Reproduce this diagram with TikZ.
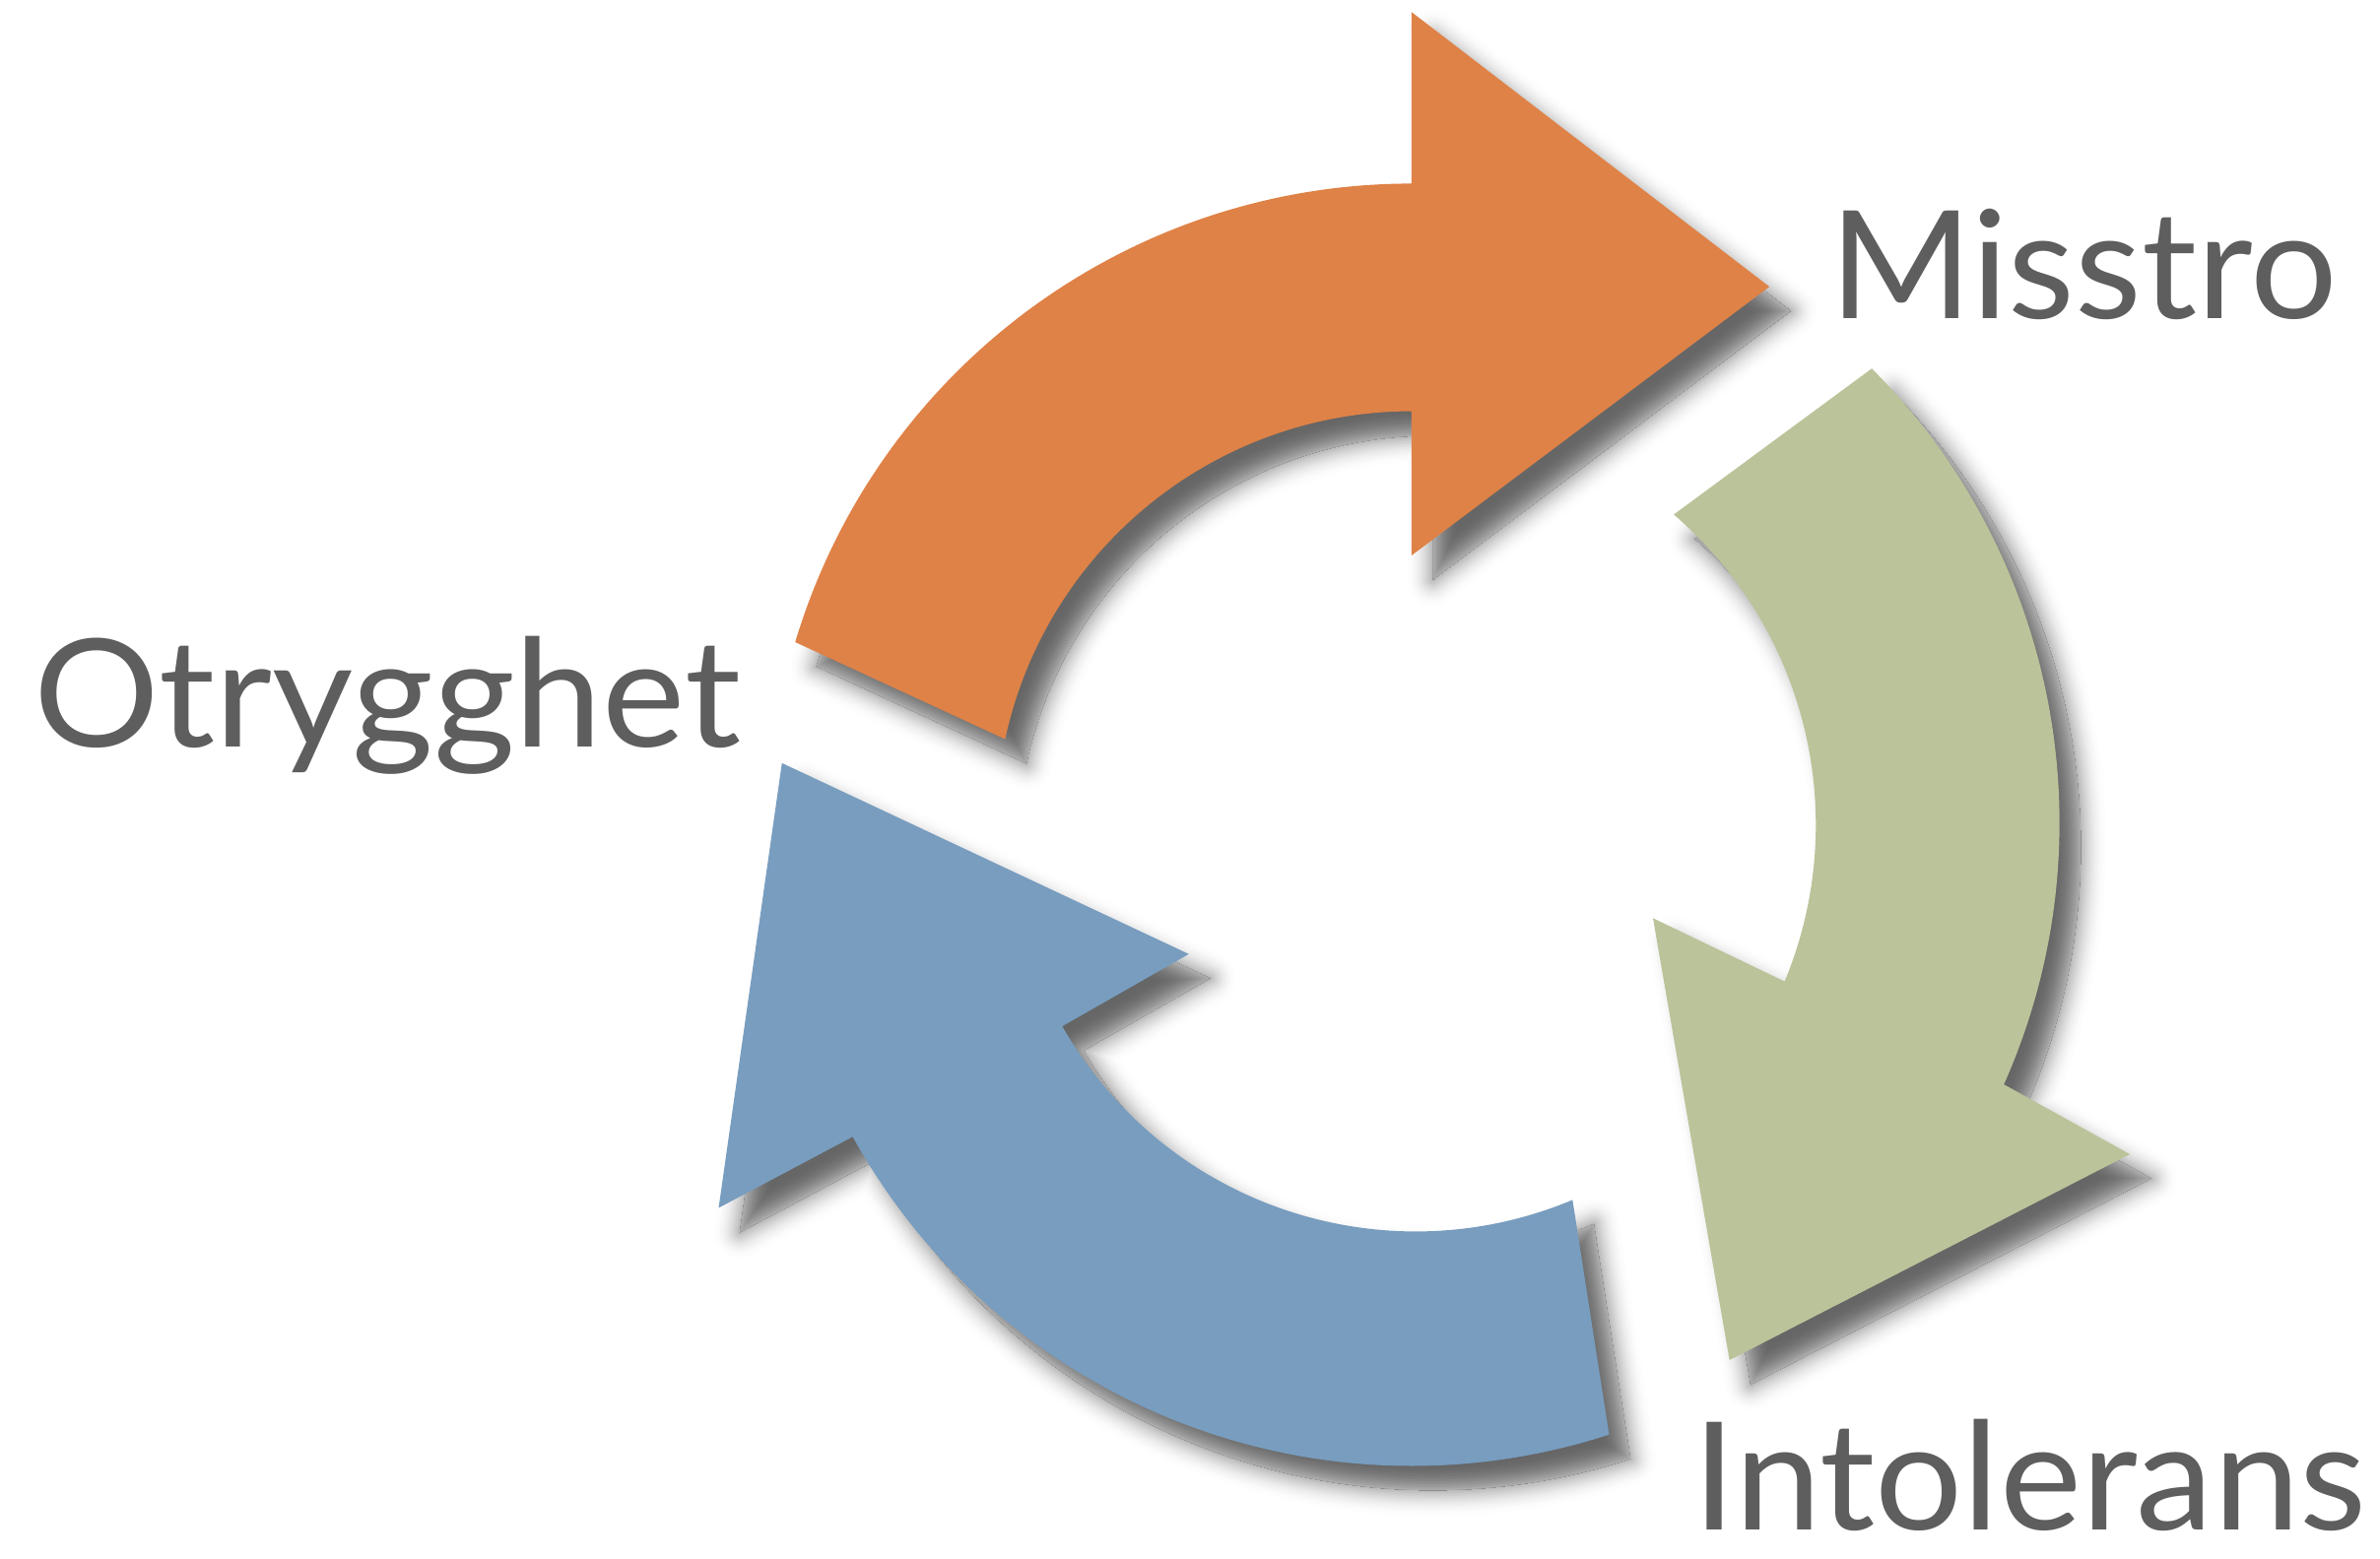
\documentclass[tikz,border=0pt]{standalone}
\usepackage{fontspec}
\setmainfont{Lato}
\usetikzlibrary{shadows.blur}
\definecolor{arOrange}{HTML}{DF8247}
\definecolor{arGreen}{HTML}{BBC39A}
\definecolor{arBlue}{HTML}{789DBF}
\definecolor{txtGray}{HTML}{5E5E5E}
\def\orangepath{(163.3:424pt) arc[start angle=163.3,end angle=90,radius=424pt]
  -- (90:537pt) -- (56.5:427pt) -- (90:179pt) -- (90:274pt)
  arc[start angle=90,end angle=167.8,radius=274pt] -- cycle}
\def\greenpath{(44.9:428pt) arc[start angle=44.9,end angle=-24,radius=424pt]
  -- (-24.5:520pt) -- (-59.2:409pt) -- (-20.7:170pt) -- (-22.5:266pt)
  arc[start angle=-22.5,end angle=49.2,radius=270pt] -- cycle}
\def\bluepath{(288:421pt) arc[start angle=288,end angle=209,radius=421pt]
  -- (208.8:521pt) -- (174.2:417pt) -- (209.7:169pt) -- (209.7:265pt)
  arc[start angle=209.7,end angle=292.7,radius=268pt] -- cycle}
\begin{document}
\begin{tikzpicture}[x=1pt,y=1pt,
  ring/.style={line join=round},
  lbl/.style={font=\fontsize{99}{110}\selectfont, text=txtGray, inner sep=0pt, anchor=base west}]
\useasboundingbox (0,0) rectangle (1568,1027);
\fill[white] (0,0) rectangle (1568,1027);
\begin{scope}[shift={(930,482)}]
% soft drop shadows built from opaque grey rings
\begin{scope}[shift={(14,-16)}]
% outer fade (widest, lightest first)
\foreach \k in {18,...,1}{
  \pgfmathsetmacro\dk{60*0.5*(1-\k/19)^2}
  \pgfmathsetmacro\lw{2*\k}
  \path[ring, fill=black!\dk!white, draw=black!\dk!white, line width=\lw pt] \orangepath;
  \path[ring, fill=black!\dk!white, draw=black!\dk!white, line width=\lw pt] \greenpath;
  \path[ring, fill=black!\dk!white, draw=black!\dk!white, line width=\lw pt] \bluepath;
}
% inner rise (clipped to each shadow shape)
\begin{scope}
  \clip \orangepath;
  \fill[black!60!white] \orangepath;
  \foreach \k in {18,...,1}{
    \pgfmathsetmacro\dk{60*(1-0.5*(1-\k/19)^2)}
    \pgfmathsetmacro\lw{2*\k}
    \draw[ring, draw=black!\dk!white, line width=\lw pt] \orangepath;
  }
\end{scope}
\begin{scope}
  \clip \greenpath;
  \fill[black!60!white] \greenpath;
  \foreach \k in {18,...,1}{
    \pgfmathsetmacro\dk{60*(1-0.5*(1-\k/19)^2)}
    \pgfmathsetmacro\lw{2*\k}
    \draw[ring, draw=black!\dk!white, line width=\lw pt] \greenpath;
  }
\end{scope}
\begin{scope}
  \clip \bluepath;
  \fill[black!60!white] \bluepath;
  \foreach \k in {18,...,1}{
    \pgfmathsetmacro\dk{60*(1-0.5*(1-\k/19)^2)}
    \pgfmathsetmacro\lw{2*\k}
    \draw[ring, draw=black!\dk!white, line width=\lw pt] \bluepath;
  }
\end{scope}
\end{scope}
% arrows
\fill[arOrange] \orangepath;
\fill[arGreen] \greenpath;
\fill[arBlue] \bluepath;
\end{scope}
\node[lbl] (otr) at (22,535) {\scalebox{1.045}[1]{Otrygghet}};
\node[lbl] (mis) at (1205,817) {\scalebox{1.025}[1]{Misstro}};
\node[lbl] (int) at (1115,19) {\scalebox{1.03}[1]{Intolerans}};
\end{tikzpicture}
\end{document}
